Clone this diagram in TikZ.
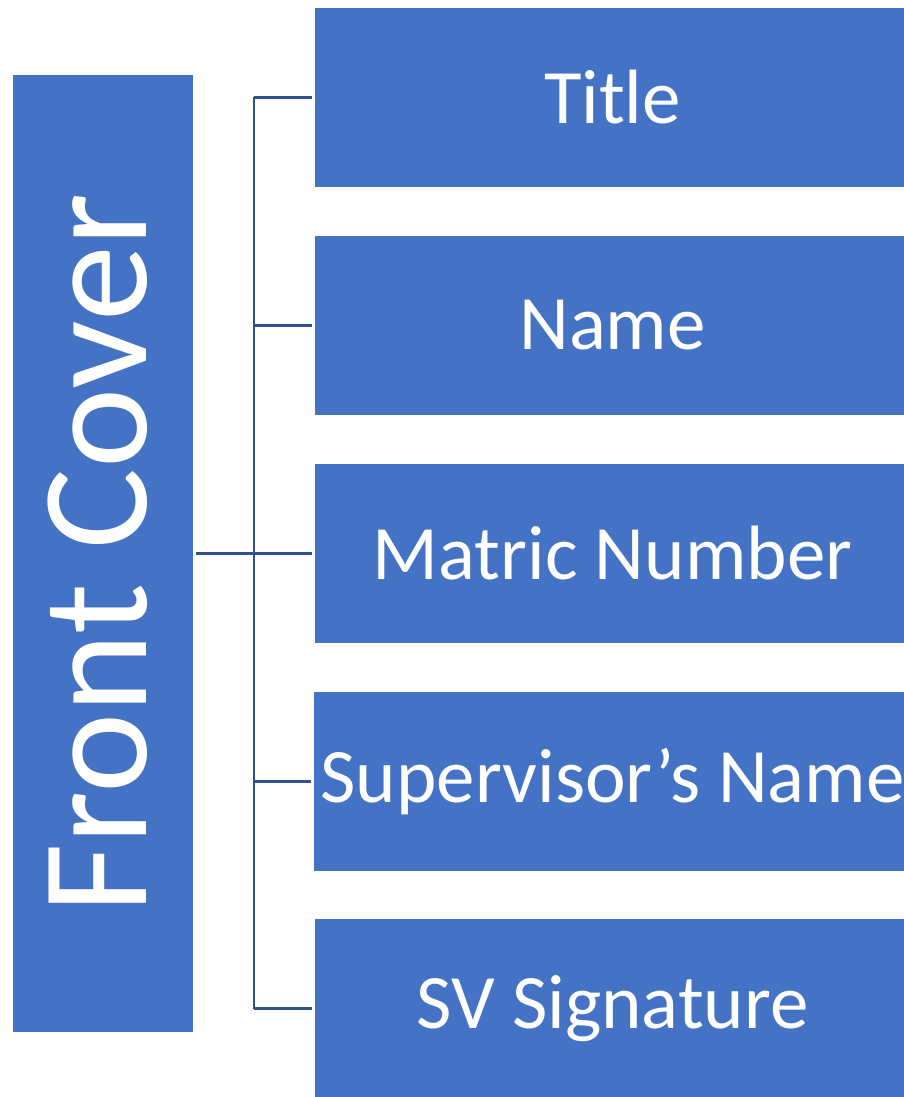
\documentclass[tikz,border=0pt]{standalone}
\usepackage{fontspec}
\setmainfont{Carlito}
\definecolor{boxblue}{HTML}{4472C4}
\definecolor{linkblue}{HTML}{2F528F}
\begin{document}
\begin{tikzpicture}[x=1pt,y=-1pt,
  itembox/.style={fill=boxblue,draw=none,minimum width=589pt,minimum height=179pt,inner sep=0pt,text=white,font=\fontsize{77}{92}\selectfont},
  link/.style={draw=linkblue,line width=2.6pt}]
\useasboundingbox (0,0) rectangle (904,1097);
\node[fill=boxblue,minimum width=180pt,minimum height=957pt,inner sep=0pt] (fc) at (103,553.5) {};
\node[rotate=90,text=white,font=\fontsize{152}{182}\selectfont,inner sep=0pt] (fct) at (98,553.5) {Front Cover};
\node[itembox] (t) at (609.5,97.5) {\hspace*{6pt}Title};
\node[itembox] (n) at (609.5,325.5) {\hspace*{6pt}Name};
\node[itembox] (m) at (609.5,553.5) {\hspace*{6pt}Matric Number};
\node[itembox] (s) at (609.5,781.5) {\hspace*{6pt}Supervisor’s Name};
\node[itembox] (v) at (609.5,1008.5) {\hspace*{6pt}SV Signature};
\coordinate (j) at (254,553.5);
\draw[link] ([xshift=3pt]fc.east) -- (j);
\draw[link] (j |- t.west) -- (j |- v.west);
\foreach \b in {t,n,m,s,v}{
  \draw[link] (j |- \b.west) -- ([xshift=-3pt]\b.west);
}
\end{tikzpicture}
\end{document}
